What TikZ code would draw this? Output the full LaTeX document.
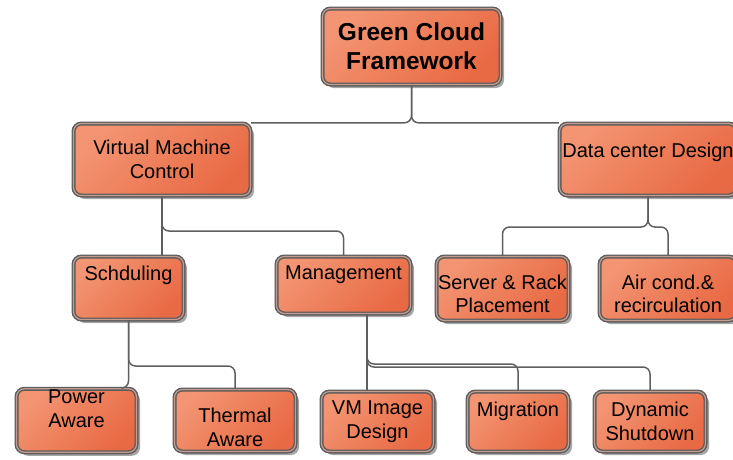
\documentclass[tikz,border=0pt]{standalone}
\usepackage{fontspec}
\setmainfont{Liberation Sans}
\usetikzlibrary{shadows}

\definecolor{boxlight}{RGB}{243,148,114}
\definecolor{boxdark}{RGB}{232,106,68}
\definecolor{boxline}{RGB}{92,92,92}
\definecolor{boxring}{RGB}{196,156,144}
\definecolor{wiregray}{RGB}{95,95,95}

\begin{document}
\begin{tikzpicture}[
  x=1pt, y=-1pt,
  box/.style={rounded corners=8pt, draw=boxline, line width=1.4pt, double=boxring, double distance=1.2pt,
    top color=boxlight, bottom color=boxdark, shading angle=45,
    drop shadow={shadow xshift=3.5pt, shadow yshift=-3.5pt, fill=black, opacity=0.35},
    align=center, inner sep=0pt, font=\fontsize{20}{23.5}\selectfont},
  lift/.style={text height=15pt, text depth=#1},
  wire/.style={draw=wiregray, line width=1.5pt, rounded corners=7pt}
]
\useasboundingbox (0,0) rectangle (733,459);

\node[box, minimum width=178pt, minimum height=76pt, font=\fontsize{24.5}{29}\selectfont\bfseries] (root) at (411.5,46.5) {Green Cloud\\Framework};

\node[box, minimum width=177pt, minimum height=72pt] (vmc) at (162,159.5) {Virtual Machine\\Control};
\node[box, minimum width=177pt, minimum height=72pt, lift=20pt] (dcd) at (648,159.5) {Data center Design};

\node[box, minimum width=110pt, minimum height=63pt, lift=31pt] (sch) at (128.5,288) {Schduling};
\node[box, minimum width=134pt, minimum height=57pt, lift=27pt] (mgt) at (343.5,285) {Management};
\node[box, minimum width=132pt, minimum height=64pt, text height=48pt, text depth=0pt] (srp) at (502.5,288.5) {Server \& Rack\\Placement};
\node[box, minimum width=137pt, minimum height=64pt, text height=48pt, text depth=0pt] (acr) at (668,288.5) {Air cond.\&\\recirculation};

\node[box, minimum width=120pt, minimum height=62pt, text height=38.5pt, text depth=25pt] (pwa) at (76.5,420.5) {Power\\Aware};
\node[box, minimum width=121pt, minimum height=62pt, text height=51pt, text depth=0pt] (thm) at (235,420.5) {Thermal\\Aware};
\node[box, minimum width=112pt, minimum height=60pt] (vmi) at (377.5,421.5) {VM Image\\Design};
\node[box, minimum width=101pt, minimum height=60pt, lift=26pt] (mig) at (518,421.5) {Migration};
\node[box, minimum width=111pt, minimum height=60pt] (dsh) at (650,421.5) {Dynamic\\Shutdown};

% junction points
\coordinate (vmj) at (162,231);
\coordinate (dcj) at (648,227);
\coordinate (schj) at (128.5,366);
\coordinate (mgj) at (367,364);

\draw[wire] (root.south) |- (vmc.north east);
\draw[wire] (root.south) |- (dcd.north west);

\draw[wire] (vmc.south) -- (vmj |- sch.north);
\draw[wire] (vmc.south) -- (vmj) -| (mgt.north);

\draw[wire] (dcd.south) -- (dcj) -| (srp.north);
\draw[wire] (dcd.south) -- (dcj) -| (acr.north);

\draw[wire] (sch.south) |- ([xshift=46pt]pwa.north);
\draw[wire] (sch.south) -- (schj) -| (thm.north);

\draw[wire] (mgj |- mgt.south) -- (mgj |- vmi.north);
\draw[wire] (mgj |- mgt.south) -- (mgj) -| (mig.north);
\draw[wire] (mgj |- mgt.south) -- ([yshift=-3pt]mgj) -| (dsh.north);
\end{tikzpicture}
\end{document}
